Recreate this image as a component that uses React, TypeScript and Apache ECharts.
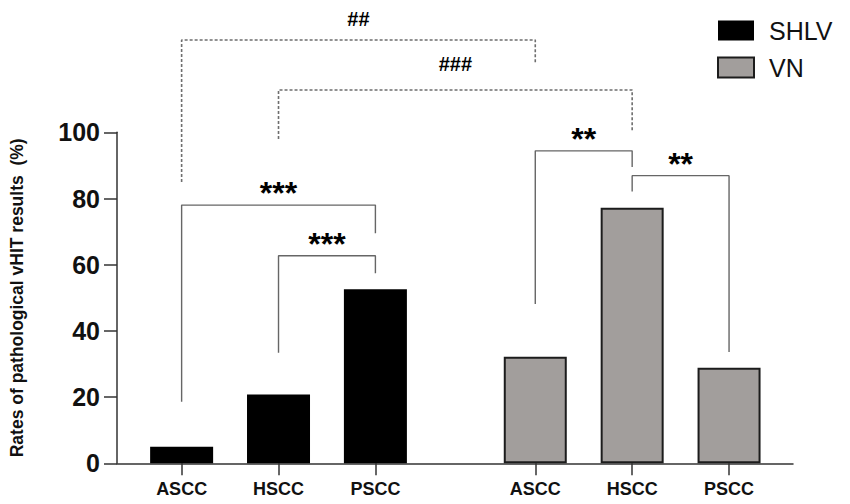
import React, { useEffect, useRef } from "react";
import * as echarts from "echarts";

// ---- data ----
const categories = ["ASCC", "HSCC", "PSCC"];
const groups = ["SHLV", "VN"];
const shlvValues = [5.0, 20.8, 52.6];
const vnValues = [32.2, 77.2, 28.9];
const yTicks = [0, 20, 40, 60, 80, 100];

// x positions of the categories on the (hidden-scale) x axis
const shlvPos = [1, 2, 3];
const vnPos = [4.65, 5.65, 6.65];

// significance brackets
const bracketLabels = ["***", "***", "**", "**", "##", "###"];
const bracketX1 = [1, 2, 4.65, 5.65, 1, 2];
const bracketX2 = [3, 3, 5.65, 6.65, 4.65, 5.65];
const bracketTop = [78.0, 62.7, 94.4, 86.9, 127.9, 112.8];
const bracketLeftEnd = [18.6, 33.4, 48.1, 82.1, 85.0, 98.0];
const bracketRightEnd = [69.5, 57.4, 89.5, 33.6, 121.2, 100.1];
const bracketLabelY = [83.4, 68.0, 99.8, 92.2, 134.4, 121.0];
const bracketDashed = [false, false, false, false, true, true];

const FONT = "'Liberation Sans', Arial, Helvetica, sans-serif";

export default function App() {
  const ref = useRef<HTMLDivElement | null>(null);

  useEffect(() => {
    document.body.style.margin = "0";
    if (!ref.current) return;
    const chart = echarts.init(ref.current, undefined, { renderer: "svg" });

    const allPos = [...shlvPos, ...vnPos];
    const posName = (v: number) => {
      const i = allPos.findIndex((p) => Math.abs(p - v) < 0.01);
      return i < 0 ? "" : categories[i % categories.length];
    };

    const bracketSeries = bracketLabels.map((lab, i) => ({
      type: "line",
      name: "bracket" + i,
      silent: true,
      clip: false,
      symbol: "none",
      z: 1,
      lineStyle: bracketDashed[i]
        ? { color: "#6e6e6e", width: 1.6, type: [3, 2] }
        : { color: "#666666", width: 1.4 },
      data: [
        [bracketX1[i], bracketLeftEnd[i]],
        [bracketX1[i], bracketTop[i]],
        [bracketX2[i], bracketTop[i]],
        [bracketX2[i], bracketRightEnd[i]],
      ],
    }));

    const labelSeries = {
      type: "scatter",
      name: "labels",
      silent: true,
      clip: false,
      symbolSize: 0,
      itemStyle: { color: "#000", opacity: 1 },
      data: bracketLabels.map((lab, i) => ({
        name: lab,
        value: [(bracketX1[i] + bracketX2[i]) / 2, bracketLabelY[i]],
        label: bracketDashed[i]
          ? { fontSize: 20, fontWeight: "bold", offset: [0, 1] }
          : { fontSize: 32, fontWeight: "bold", offset: [0, 6] },
      })),
      label: {
        show: true,
        position: "inside",
        formatter: "{b}",
        color: "#000",
        opacity: 1,
        textBorderWidth: 0,
        fontFamily: FONT,
      },
    };

    chart.setOption({
      animation: false,
      backgroundColor: "#ffffff",
      grid: { left: 113, right: 57, top: 132.3, bottom: 40.7, containLabel: false },
      legend: {
        data: groups,
        orient: "vertical",
        left: 712,
        top: 13,
        icon: "rect",
        itemWidth: 36,
        itemHeight: 20,
        itemGap: 12,
        textStyle: {
          fontFamily: FONT,
          fontSize: 25,
          color: "#111",
          padding: [0, 0, 0, 10],
        },
      },
      xAxis: {
        type: "value",
        min: 0.333,
        max: 7.31,
        splitLine: { show: false },
        axisLine: { show: true, onZero: false, lineStyle: { color: "#333", width: 1.5 } },
        axisTick: {
          show: true,
          customValues: allPos,
          length: 12,
          lineStyle: { color: "#333", width: 1.5 },
        },
        axisLabel: {
          customValues: allPos,
          formatter: (v: number) => posName(v),
          fontFamily: FONT,
          fontSize: 18,
          fontWeight: "bold",
          color: "#111",
          margin: 17,
        },
      },
      yAxis: {
        type: "value",
        min: 0,
        max: 100,
        interval: 20,
        name: "Rates of pathological vHIT results  (%)",
        nameLocation: "middle",
        nameGap: 91,
        nameTextStyle: { fontFamily: FONT, fontSize: 17.5, fontWeight: "bold", color: "#111" },
        splitLine: { show: false },
        axisLine: { show: true, lineStyle: { color: "#333", width: 1.5 } },
        axisTick: { show: true, length: 13, lineStyle: { color: "#333", width: 1.5 } },
        axisLabel: {
          fontFamily: FONT,
          fontSize: 25,
          fontWeight: "bold",
          color: "#111",
          margin: 17,
          formatter: (v: number) => (yTicks.includes(v) ? String(v) : ""),
        },
      },
      series: [
        {
          type: "bar",
          name: "SHLV",
          barWidth: 63,
          barGap: "-100%",
          itemStyle: { color: "#000000" },
          data: shlvPos.map((x, i) => [x, shlvValues[i]]),
          z: 2,
        },
        {
          type: "bar",
          name: "VN",
          barWidth: 63,
          barGap: "-100%",
          itemStyle: { color: "#a29e9c", borderColor: "#1c1c1c", borderWidth: 2 },
          data: vnPos.map((x, i) => [x, vnValues[i]]),
          z: 2,
        },
        ...bracketSeries,
        labelSeries,
      ],
    } as any);

    return () => chart.dispose();
  }, []);

  return <div ref={ref} style={{ width: 850, height: 504 }} />;
}
